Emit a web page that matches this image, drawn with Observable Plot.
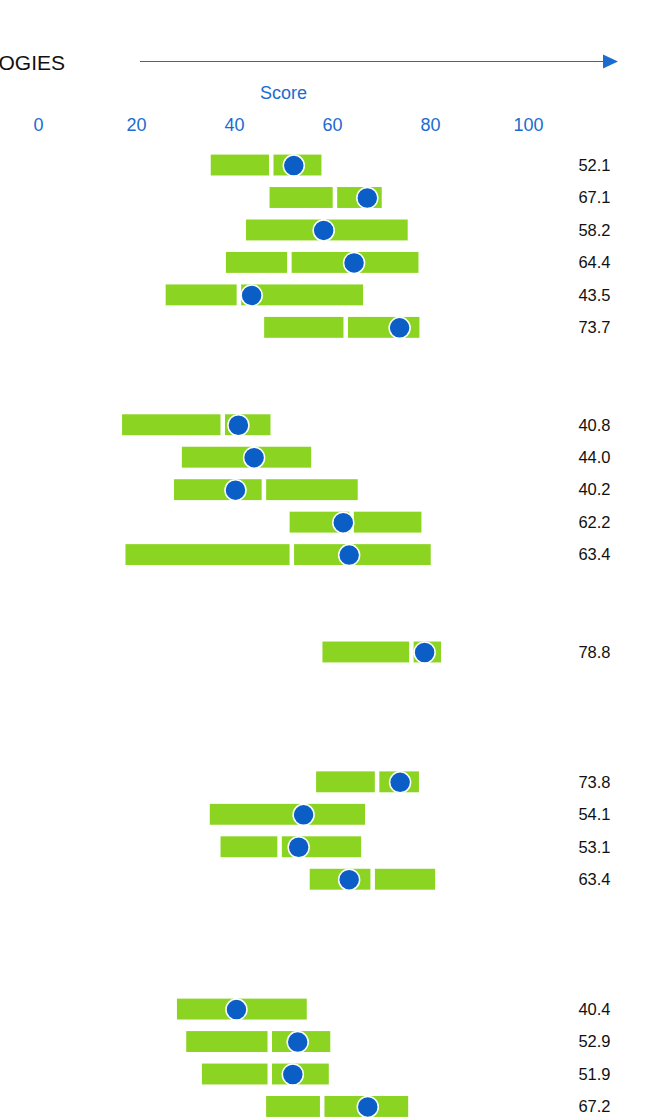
<!DOCTYPE html>
<html>
<head>
<meta charset="utf-8">
<script src="https://cdn.jsdelivr.net/npm/d3@7"></script>
<script src="https://cdn.jsdelivr.net/npm/@observablehq/plot@0.6"></script>
<style>
  html, body { margin: 0; padding: 0; background: #fff; overflow: hidden; }
  #wrap { width: 652px; height: 1118px; position: relative; overflow: hidden; font-family: "Liberation Sans", Arial, sans-serif; }
  #header { display: block; }
  #chart svg { display: block; }
</style>
</head>
<body>
<div id="wrap">
  <svg id="header" width="652" height="80">
    <text x="65" y="70" text-anchor="end" font-size="21" fill="#111" font-family="'Liberation Sans', Arial, sans-serif">TECHNOLOGIES</text>
    <line x1="140" y1="61.5" x2="606" y2="61.5" stroke="#1b6ccf" stroke-width="1"></line>
    <path d="M603,54.5 L618,61.5 L603,68.5 Z" fill="#1b6ccf"></path>
  </svg>
  <div id="chart"></div>
</div>
<script>
// Row slots (gaps between groups are empty slots)
const rowSlots = [0,1,2,3,4,5, 8,9,10,11,12, 15, 19,20,21,22, 26,27,28,29];
const lows   = [35.1,47.1,42.3,38.2,25.9,46.0, 17.0,29.2,27.6,51.2,17.7, 57.9, 56.6,34.9,37.1,55.3, 28.2,30.1,33.3,46.4];
const splits = [47.6,60.6,58.2,51.3,41.0,62.8, 37.7,44.0,46.1,64.0,51.8, 76.2, 69.2,54.1,49.3,68.3, 40.4,47.3,47.3,58.0];
const highs  = [58.0,70.3,75.6,77.8,66.5,78.0, 47.6,55.9,65.4,78.4,80.3, 82.4, 77.9,66.9,66.1,81.2, 55.0,59.8,59.5,75.7];
const scores = [52.1,67.1,58.2,64.4,43.5,73.7, 40.8,44.0,40.2,62.2,63.4, 78.8, 73.8,54.1,53.1,63.4, 40.4,52.9,51.9,67.2];
const xTicks = [0, 20, 40, 60, 80, 100];
const slotCount = 30;

const rows = rowSlots.map((slot, i) => ({
  slot, low: lows[i], split: splits[i], high: highs[i], score: scores[i]
}));

const GREEN = "#8bd422";
const BLUE = "#0a5ec5";
const AXIS_BLUE = "#1b6ccf";

const chart = Plot.plot({
  width: 652,
  height: 1038,
  marginTop: 54,
  marginLeft: 38,
  marginRight: 124,
  marginBottom: 0,
  style: { fontFamily: "'Liberation Sans', Arial, sans-serif", background: "#fff" },
  x: { domain: [0, 100] },
  y: { type: "band", domain: d3.range(slotCount), range: [68.8, 1042.7], paddingInner: 0.31, paddingOuter: 0.155, round: false, axis: null },
  marks: [
    Plot.axisX({ anchor: "top", ticks: xTicks, tickSize: 0, tickPadding: 4, fontSize: 18, color: AXIS_BLUE,
      label: "Score", labelAnchor: "center", labelOffset: 48, labelArrow: "none" }),
    Plot.barX(rows, { x1: "low", x2: "split", y: "slot", fill: GREEN, stroke: "white", strokeWidth: 1.5, insetLeft: 0, insetRight: 1.5 }),
    Plot.barX(rows, { x1: "split", x2: "high", y: "slot", fill: GREEN, stroke: "white", strokeWidth: 1.5, insetLeft: 1.5, insetRight: 0 }),
    Plot.dot(rows, { x: "score", y: "slot", r: 10.5, fill: BLUE, stroke: "white", strokeWidth: 1.5 }),
    Plot.text(rows, { y: "slot", frameAnchor: "right", dx: 82, text: d => d.score.toFixed(1), textAnchor: "end", fontSize: 16.5, fill: "#111" })
  ]
});
document.getElementById("chart").appendChild(chart);
</script>
</body>
</html>
